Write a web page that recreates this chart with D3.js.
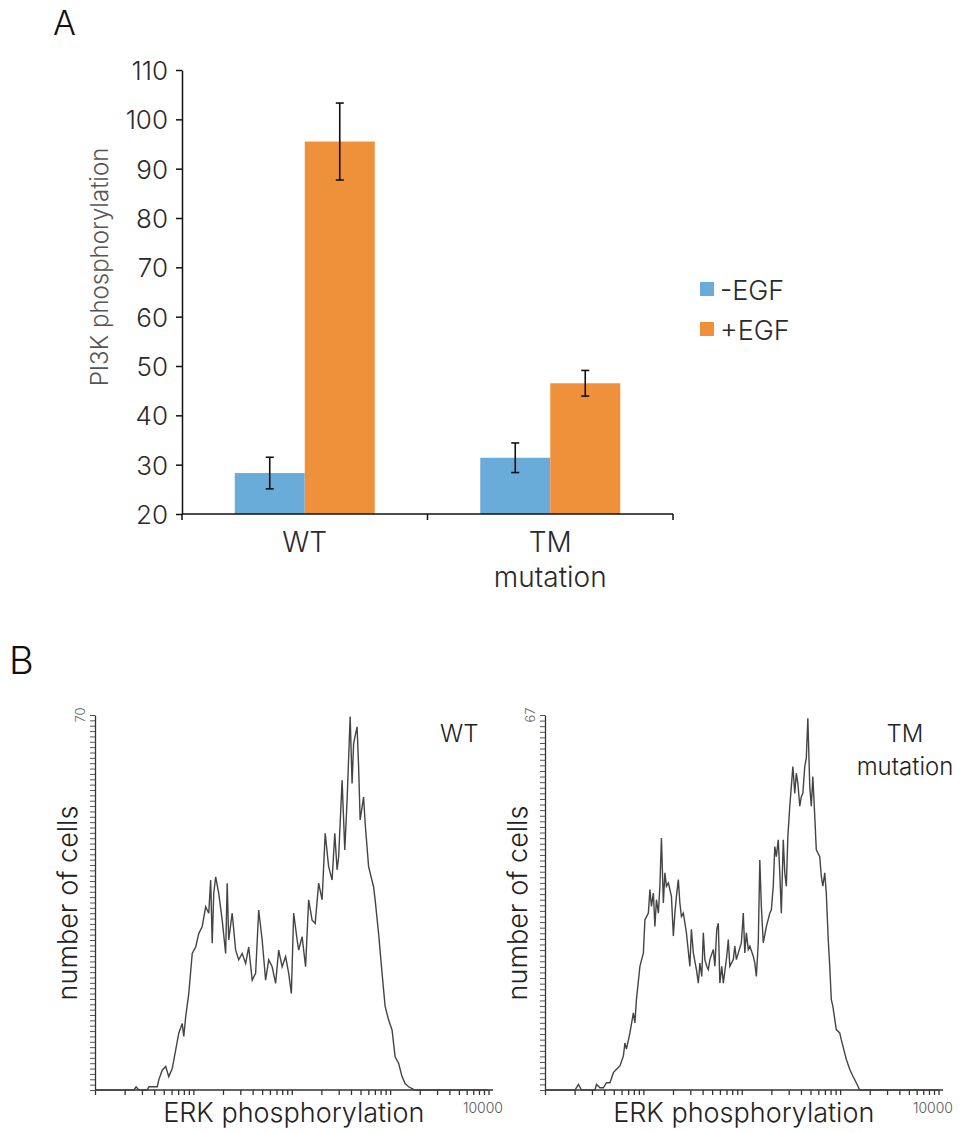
<!DOCTYPE html>
<html>
<head>
<meta charset="utf-8">
<script src="https://cdn.jsdelivr.net/npm/d3@7"></script>
<style>
  html, body { margin: 0; padding: 0; background: #fff; }
  svg { display: block; }
  text { font-family: Inter, "Liberation Sans", Arial, sans-serif; font-weight: 300; }
</style>
</head>
<body>
<svg id="chart" width="962" height="1133"></svg>
<script>
// ---------- Panel A data ----------
const categories = ["WT", "TM mutation"];
const seriesNames = ["-EGF", "+EGF"];
const minusEGF = [28.3, 31.4];
const plusEGF = [95.5, 46.5];
const minusEGFErr = [3.2, 3.0];
const plusEGFErr = [7.8, 2.6];
const yTicksA = [20, 30, 40, 50, 60, 70, 80, 90, 100, 110];
const seriesColors = ["#6aacd9", "#ef913b"];

// ---------- Panel B data (channel: 256 per decade, counts) ----------
const wtChannels = [0,101,107,114,136,140,162,166,175,184,192,201,210,218,227,231,236,244,253,262,270,279,288,296,301,305,309,314,322,331,340,344,348,357,366,374,383,392,400,409,418,426,435,444,452,461,470,478,487,496,504,511,517,526,530,539,548,556,565,573,582,591,599,608,617,624,630,634,643,650,656,664,669,673,682,686,690,699,703,712,725,729,738,747,755,764,773,781,790,799,807,816,829,833,1023];
const wtCounts = [0,0,0.6,0,0,0.6,0.6,1.9,3.7,4.4,2.5,4.0,7.5,10.6,12.4,10.0,13.7,18.0,25.5,26.7,29.2,30.5,34.2,33.0,39.2,27.4,36.7,39.8,36.7,31.7,25.5,38.6,28.0,33.0,26.1,24.3,25.5,23.6,26.7,20.5,21.8,33.6,28.0,20.5,24.3,23.0,19.9,26.1,23.0,24.9,21.8,18.0,33.0,28.0,26.1,28.6,23.0,35.5,31.7,31.1,38.6,35.5,47.9,41.7,39.2,47.9,41.1,43.5,57.8,44.8,54.1,69.7,57.2,64.7,67.8,60.3,50.4,54.7,49.8,41.7,37.9,35.5,29.2,21.8,15.6,13.1,11.2,6.2,5.0,2.5,1.2,0.6,0.1,0,0];
const tmChannels = [0,78,87,95,130,134,143,152,160,169,178,186,195,204,208,212,221,230,234,238,247,256,260,269,273,277,282,286,290,295,299,303,308,312,316,321,325,329,334,338,342,347,351,355,360,368,377,381,386,394,399,403,408,412,416,421,425,429,438,442,447,451,455,460,464,473,477,481,490,494,498,503,511,516,520,524,529,533,542,546,550,555,559,563,568,576,585,589,594,598,602,607,611,615,620,624,628,632,637,641,645,650,654,658,663,667,671,676,680,684,689,693,697,702,706,715,719,723,728,732,737,741,745,749,758,767,771,784,793,801,810,819,1023];
const tmCounts = [0,0,1.0,0,0,1.0,0.4,0.4,1.3,1.3,3.1,3.7,4.3,6.1,8.4,7.3,10.2,13.8,12.0,16.2,22.1,24.5,30.4,31.6,35.8,32.8,35.2,29.2,34.0,31.6,36.4,45.0,33.4,38.8,36.4,37.0,35.8,34.6,27.5,31.6,34.6,37.6,33.4,31.0,31.6,28.1,22.1,28.7,24.5,21.5,19.1,22.7,20.3,28.1,23.3,22.1,21.5,23.3,25.1,22.1,28.7,29.8,19.1,22.1,19.1,23.9,26.9,22.1,23.3,25.7,23.3,24.5,26.3,31.6,24.5,28.1,25.1,25.7,23.9,22.7,20.3,26.3,41.1,32.8,26.3,29.2,31.6,32.2,36.4,43.5,41.7,44.7,38.8,31.6,44.7,38.8,36.4,45.3,50.7,54.2,57.8,53.0,56.6,54.8,50.7,52.4,53.0,57.8,59.3,66.4,54.2,50.7,56.0,48.9,42.9,41.7,38.2,36.4,38.8,35.2,26.9,22.1,16.2,15.0,10.8,10.2,9.0,5.5,3.7,2.5,1.3,0,0];
const histXDomain = [1, 10000];
const wtYMax = 70;
const tmYMax = 67;
const channelsPerDecade = 256;

const svg = d3.select("#chart");

// ---------- Panel labels ----------
svg.append("text").attr("x", 53).attr("y", 35).attr("font-size", 34).attr("fill", "#111").text("A");
svg.append("text").attr("x", 9).attr("y", 674).attr("font-size", 38).attr("fill", "#111").text("B");

// ---------- Panel A ----------
const yA = d3.scaleLinear().domain([20, 110]).range([514, 70]);
const x0 = d3.scaleBand().domain(categories).range([182, 673]);
const barW = 70;
const x1 = d3.scaleBand().domain(seriesNames)
  .range([x0.bandwidth() / 2 - barW, x0.bandwidth() / 2 + barW]);

const seriesVals = [minusEGF, plusEGF];
const seriesErr = [minusEGFErr, plusEGFErr];

const gA = svg.append("g");
seriesNames.forEach((s, si) => {
  categories.forEach((c, ci) => {
    const v = seriesVals[si][ci];
    gA.append("rect")
      .attr("x", x0(c) + x1(s))
      .attr("y", yA(v))
      .attr("width", x1.bandwidth())
      .attr("height", yA(20) - yA(v))
      .attr("fill", seriesColors[si]);
  });
});
// error bars
seriesNames.forEach((s, si) => {
  categories.forEach((c, ci) => {
    const v = seriesVals[si][ci], e = seriesErr[si][ci];
    const cx = x0(c) + x1(s) + x1.bandwidth() / 2;
    const g = gA.append("g").attr("stroke", "#111").attr("stroke-width", 1.6);
    g.append("line").attr("x1", cx).attr("x2", cx).attr("y1", yA(v + e)).attr("y2", yA(v - e));
    g.append("line").attr("x1", cx - 4).attr("x2", cx + 4).attr("y1", yA(v + e)).attr("y2", yA(v + e));
    g.append("line").attr("x1", cx - 4).attr("x2", cx + 4).attr("y1", yA(v - e)).attr("y2", yA(v - e));
  });
});

// y axis
const yAxisA = gA.append("g").attr("transform", "translate(182,0)")
  .call(d3.axisLeft(yA).tickValues(yTicksA).tickSize(6).tickSizeOuter(0).tickPadding(8));
yAxisA.selectAll("text").attr("font-size", 26).attr("fill", "#2a2a2a").attr("dy", "0.36em")
  .style("font-family", "Inter, \"Liberation Sans\", Arial, sans-serif").style("font-weight", 300);
yAxisA.selectAll("path, line").attr("stroke", "#111").attr("stroke-width", 1.5);

// x axis
const xAxisA = gA.append("g").attr("transform", "translate(0,514)")
  .call(d3.axisBottom(x0).tickSize(0).tickFormat(""));
xAxisA.select(".domain").attr("stroke", "#111").attr("stroke-width", 1.5).attr("d", `M182,0H673`);
const edges = [x0(categories[0])].concat(categories.map(c => x0(c) + x0.bandwidth()));
edges.forEach(ex => {
  xAxisA.append("line").attr("x1", ex).attr("x2", ex).attr("y1", 0).attr("y2", 6)
    .attr("stroke", "#111").attr("stroke-width", 1.5);
});
categories.forEach(c => {
  const lines = c.split(" ");
  const t = gA.append("text").attr("text-anchor", "middle").attr("font-size", 28).attr("fill", "#2a2a2a");
  lines.forEach((ln, i) => {
    t.append("tspan").attr("x", x0(c) + x0.bandwidth() / 2).attr("y", 552 + i * 35).text(ln);
  });
});

// y label
gA.append("text").attr("transform", "translate(108,267) rotate(-90)")
  .attr("text-anchor", "middle").attr("font-size", 24).attr("fill", "#555")
  .text("PI3K phosphorylation");

// legend
seriesNames.forEach((s, i) => {
  gA.append("rect").attr("x", 700).attr("y", 282 + i * 40).attr("width", 14).attr("height", 14)
    .attr("fill", seriesColors[i]);
  gA.append("text").attr("x", 720).attr("y", 300 + i * 40).attr("font-size", 27).attr("fill", "#2a2a2a")
    .text(s);
});

// ---------- Panel B ----------
function drawHist(opts) {
  const g = svg.append("g");
  const x = d3.scaleLog().domain(histXDomain).range([opts.left, opts.left + 393.5]);
  const y = d3.scaleLinear().domain([0, opts.ymax]).range([1090, 715]);
  const data = d3.zip(opts.channels, opts.counts);
  const ticks = [];
  [1, 10, 100, 1000].forEach(dec => { for (let k = 1; k <= 9; k++) ticks.push(k * dec); });
  ticks.push(10000);
  const xa = g.append("g").attr("transform", "translate(0,1090)")
    .call(d3.axisBottom(x).tickValues(ticks).tickSize(5).tickSizeOuter(0).tickFormat(""));
  xa.select(".domain").attr("d", `M${opts.left},0H${opts.left + 398}`);
  xa.selectAll("path, line").attr("stroke", "#333").attr("stroke-width", 1.3);

  const ya = g.append("g").attr("transform", `translate(${opts.left},0)`)
    .call(d3.axisLeft(y).tickValues(d3.range(0, opts.ymax + 1)).tickSize(5).tickSizeOuter(0).tickFormat(""));
  ya.selectAll("path").attr("stroke", "#333").attr("stroke-width", 1.3);
  ya.selectAll("line").attr("stroke", "#555").attr("stroke-width", 1);

  g.append("text").attr("transform", `translate(${opts.left - 10},${y(opts.ymax)}) rotate(-90)`)
    .attr("text-anchor", "middle").attr("font-size", 13).attr("fill", "#666").text(opts.ymax);
  g.append("text").attr("x", x(10000) + 14.5).attr("y", 1113).attr("text-anchor", "end")
    .attr("font-size", 14).attr("fill", "#555").text("10000");

  const line = d3.line()
    .x(d => x(Math.pow(10, d[0] / channelsPerDecade)))
    .y(d => y(d[1]));
  g.append("path").datum(data).attr("d", line).attr("fill", "none")
    .attr("stroke", "#444").attr("stroke-width", 1.4).attr("stroke-linejoin", "miter");

  g.append("text").attr("x", x(100) + 2).attr("y", 1122).attr("text-anchor", "middle")
    .attr("font-size", 27).attr("fill", "#222").text("ERK phosphorylation");
  g.append("text").attr("transform", `translate(${opts.left - 18},903) rotate(-90)`)
    .attr("text-anchor", "middle").attr("font-size", 27).attr("fill", "#222").text("number of cells");
  opts.title.forEach((t, i) => {
    g.append("text").attr("x", opts.titleX).attr("y", 742 + i * 33)
      .attr("text-anchor", opts.titleAnchor).attr("font-size", 24).attr("fill", "#222").text(t);
  });
}

drawHist({ left: 95, ymax: wtYMax, channels: wtChannels, counts: wtCounts,
  title: ["WT"], titleX: 440, titleAnchor: "start" });
drawHist({ left: 545, ymax: tmYMax, channels: tmChannels, counts: tmCounts,
  title: ["TM", "mutation"], titleX: 905, titleAnchor: "middle" });
</script>
</body>
</html>
